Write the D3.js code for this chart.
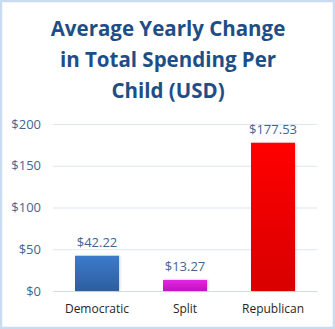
<!DOCTYPE html>
<html>
<head>
<meta charset="utf-8">
<script src="https://cdn.jsdelivr.net/npm/d3@7"></script>
<style>
  html, body { margin: 0; padding: 0; background: #fff; }
  svg { display: block; }
</style>
</head>
<body>
<svg id="chart" width="335" height="329"></svg>
<script>
// Chart data
const titleLines = ["Average Yearly Change", "in Total Spending Per", "Child (USD)"];
const categories = ["Democratic", "Split", "Republican"];
const values = [42.22, 13.27, 177.53];
const valueLabels = ["$42.22", "$13.27", "$177.53"];
const tickValues = [0, 50, 100, 150, 200];
const tickLabels = ["$0", "$50", "$100", "$150", "$200"];
const barColors = [
  { top: "#3C7BCC", bottom: "#2D5E9F" },
  { top: "#E526E5", bottom: "#C012BE" },
  { top: "#FF0000", bottom: "#D80000" }
];

const W = 335, H = 329;
const margin = { top: 124, right: 18, bottom: 38, left: 53 };
const svg = d3.select("#chart");

// Outer frame
svg.append("rect")
  .attr("x", 1).attr("y", 1)
  .attr("width", W - 2).attr("height", H - 2)
  .attr("fill", "#fff")
  .attr("stroke", "#C9DBF0")
  .attr("stroke-width", 2.5);

const defs = svg.append("defs");
barColors.forEach((c, i) => {
  const g = defs.append("linearGradient")
    .attr("id", "grad" + i)
    .attr("x1", 0).attr("y1", 0).attr("x2", 0).attr("y2", 1);
  g.append("stop").attr("offset", "0%").attr("stop-color", c.top);
  g.append("stop").attr("offset", "100%").attr("stop-color", c.bottom);
});
const shadow = defs.append("filter").attr("id", "shadow")
  .attr("x", "-20%").attr("y", "-20%").attr("width", "140%").attr("height", "140%");
shadow.append("feDropShadow")
  .attr("dx", 1).attr("dy", 0).attr("stdDeviation", 1.2)
  .attr("flood-color", "#000").attr("flood-opacity", 0.18);

// Title
svg.append("text")
  .attr("text-anchor", "middle")
  .attr("font-family", "'Open Sans', sans-serif")
  .attr("font-weight", 700)
  .attr("font-size", 20.5)
  .attr("fill", "#1F4E86")
  .selectAll("tspan")
  .data(titleLines)
  .join("tspan")
  .attr("x", W / 2 + 0.5)
  .attr("y", (d, i) => 36 + i * 31)
  .text(d => d);

const innerW = W - margin.left - margin.right;
const innerH = H - margin.top - margin.bottom;
const g = svg.append("g").attr("transform", `translate(${margin.left},${margin.top})`);

const x = d3.scaleBand().domain(categories).range([0, innerW]).paddingInner(0.5).paddingOuter(0.25);
const y = d3.scaleLinear().domain([0, 200]).range([innerH, 0]);

// Horizontal gridlines and y tick labels
const yAxis = d3.axisLeft(y)
  .tickValues(tickValues)
  .tickFormat((d, i) => tickLabels[i])
  .tickSize(-innerW)
  .tickPadding(12);
const ya = g.append("g").call(yAxis);
ya.select(".domain").remove();
ya.selectAll(".tick line").attr("stroke", "#DCE6F2").attr("stroke-width", 1.2);
ya.selectAll(".tick text")
  .attr("font-family", "'Open Sans', sans-serif")
  .attr("font-size", 13)
  .attr("fill", "#44658F");

// x axis labels
const xAxis = d3.axisBottom(x).tickSize(0).tickPadding(13);
const xa = g.append("g").attr("transform", `translate(0,${innerH})`).call(xAxis);
xa.select(".domain").attr("stroke", "#D0DCEA").attr("stroke-width", 1.2);
xa.selectAll(".tick text")
  .attr("font-family", "'Open Sans', sans-serif")
  .attr("font-size", 12)
  .attr("fill", "#262626");

// Bars
g.selectAll("rect.bar")
  .data(values)
  .join("rect")
  .attr("class", "bar")
  .attr("x", (d, i) => x(categories[i]))
  .attr("y", d => y(d))
  .attr("width", x.bandwidth())
  .attr("height", d => y(0) - y(d))
  .attr("fill", (d, i) => `url(#grad${i})`)
  .attr("filter", "url(#shadow)");

// Value labels
g.selectAll("text.val")
  .data(values)
  .join("text")
  .attr("class", "val")
  .attr("x", (d, i) => x(categories[i]) + x.bandwidth() / 2)
  .attr("y", d => y(d) - 9)
  .attr("text-anchor", "middle")
  .attr("font-family", "'Open Sans', sans-serif")
  .attr("font-size", 13)
  .attr("fill", "#44658F")
  .text((d, i) => valueLabels[i]);
</script>
</body>
</html>
